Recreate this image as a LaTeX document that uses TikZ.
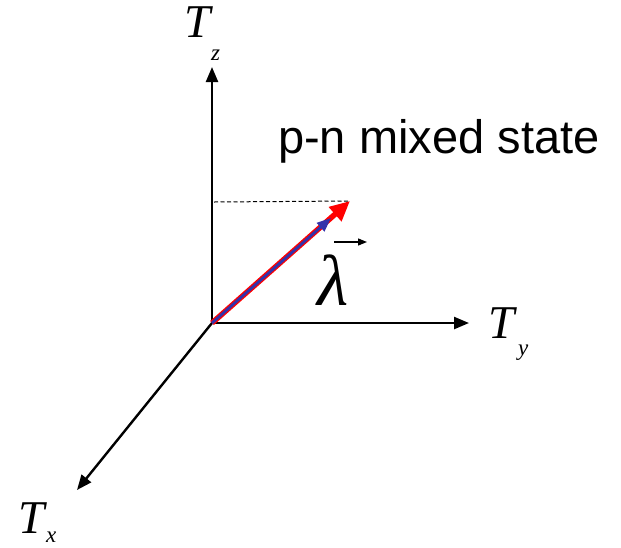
\documentclass[tikz,border=0pt]{standalone}
\usepackage{fontspec}
\setmainfont{Liberation Serif}
\newfontfamily\arialfont{Liberation Sans}
\usetikzlibrary{arrows.meta}
\definecolor{vecblue}{RGB}{51,51,170}
\tikzset{
  axis/.style={line width=2.4pt, -{Triangle[length=15pt,width=12pt]}},
  lbl/.style={inner sep=0pt, anchor=base west, font=\fontsize{47}{47}\selectfont\itshape},
  sublbl/.style={inner sep=0pt, anchor=base west, font=\fontsize{23}{23}\selectfont\itshape},
}
\begin{document}
\begin{tikzpicture}[x=1pt,y=-1pt]
\useasboundingbox (0,0) rectangle (621,547);
\coordinate (O) at (212,323);
\coordinate (zt) at (212,67);
\coordinate (yt) at (469,323);
\coordinate (xt) at (77,490);
\coordinate (rt) at (350,201);
\coordinate (bt) at (331,218);
\coordinate (ds) at (214,202);
\draw[axis] (O) -- (zt);
\draw[axis] (O) -- (yt);
\draw[axis] (O) -- (xt);
\draw[dashed, line width=1pt, dash pattern=on 4pt off 2.5pt] (ds) -- (rt);
\draw[red, line width=5.5pt, -{Triangle[length=20pt,width=18pt]}] (O) -- (rt);
\draw[vecblue, line width=2.8pt, -{Triangle[length=14pt,width=11pt]}] (O) -- (bt);
\node[lbl] (Tz) at (184,37) {T};
\node[sublbl] (tz) at (211,60) {z};
\node[lbl] (Ty) at (488,338) {T};
\node[sublbl] (ty) at (518,355) {y};
\node[lbl] (Tx) at (18,533) {T};
\node[sublbl] (tx) at (46,542) {x};
\node[inner sep=0pt, anchor=base west, font=\fontsize{72}{72}\selectfont\itshape] (lam) at (317,305) {λ};
\coordinate (la) at (334,242);
\coordinate (lb) at (367,242);
\draw[line width=1.3pt, -{Triangle[length=9pt,width=7pt]}] (la) -- (lb);
\node[inner sep=0pt, anchor=base west, font=\arialfont\fontsize{47}{47}\selectfont] (pn) at (278,153) {p-n mixed state};
\end{tikzpicture}
\end{document}
